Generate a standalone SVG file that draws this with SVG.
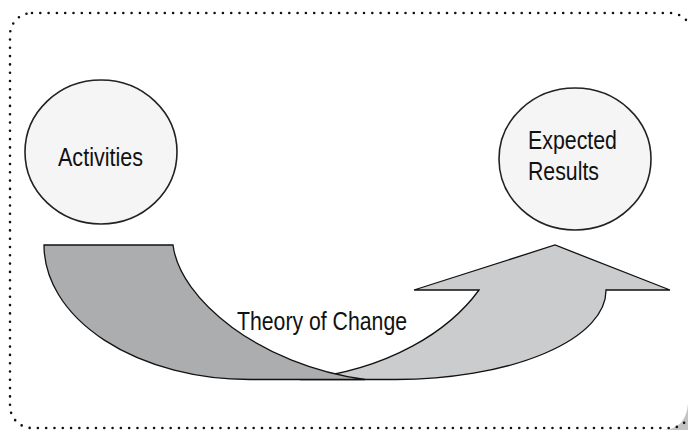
<svg xmlns="http://www.w3.org/2000/svg" width="688" height="430" viewBox="0 0 688 430">
<style>
.lbl{font-family:"Liberation Sans",Arial,sans-serif;font-size:25px;fill:#111}
.node{fill:#f5f5f5;stroke:#222;stroke-width:1.6}
.band{stroke:#111;stroke-width:1.3;stroke-linejoin:miter}
</style>
<rect width="688" height="430" fill="#fff"/>
<path d="M 664 430 Q 686 428 688 404 L 688 430 Z" fill="#c4c4c4"/>
<rect id="frame" x="10" y="13" width="682" height="415" rx="22" ry="22" fill="none" stroke="#111" stroke-width="2.6" stroke-linecap="round" stroke-dasharray="0 8.3"/>
<g id="connectors">
<path id="result-arrow" class="band" fill="#cbcccd" d="M 300 379.5 C 390 370 450 330 479 290 L 414 290 L 555 245 L 670 290 L 606 290 A 210 89 0 0 1 396 379.5 Z"/>
<path id="activity-band" class="band" fill="#acadaf" d="M 44 245 L 173 245 C 180 300 260 365 365 379.5 L 250 379.5 A 206 134.5 0 0 1 44 245 Z"/>
<text class="lbl" x="237" y="330" textLength="170" lengthAdjust="spacingAndGlyphs">Theory of Change</text>
</g>
<g id="activities">
<ellipse class="node" cx="101" cy="152" rx="76" ry="72"/>
<text class="lbl" x="58" y="166" textLength="85" lengthAdjust="spacingAndGlyphs">Activities</text>
</g>
<g id="expected-results">
<ellipse class="node" cx="575" cy="159" rx="76" ry="71"/>
<text class="lbl" x="528" y="149" font-size="24" textLength="89" lengthAdjust="spacingAndGlyphs">Expected</text>
<text class="lbl" x="528" y="180" font-size="24" textLength="71" lengthAdjust="spacingAndGlyphs">Results</text>
</g>
</svg>
